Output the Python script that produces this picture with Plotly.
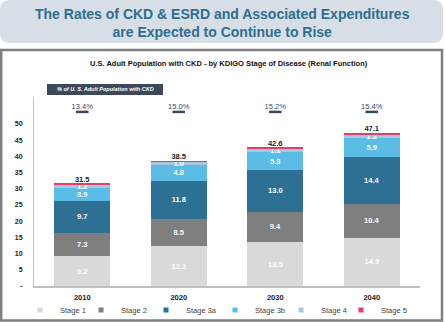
import plotly.graph_objects as go

years = ["2010", "2020", "2030", "2040"]
stages = ["Stage 1", "Stage 2", "Stage 3a", "Stage 3b", "Stage 4", "Stage 5"]
stage1 = [9.2, 12.2, 13.5, 14.9]
stage2 = [7.3, 8.5, 9.4, 10.4]
stage3a = [9.7, 11.8, 13.0, 14.4]
stage3b = [3.9, 4.8, 5.3, 5.9]
stage4 = [1.2, 1.0, 1.1, 1.2]
stage5 = [0.2, 0.2, 0.3, 0.3]
totals = [31.5, 38.5, 42.6, 47.1]
pct_ckd = ["13.4%", "15.0%", "15.2%", "15.4%"]
yticks = [0, 5, 10, 15, 20, 25, 30, 35, 40, 45, 50]
yticktext = ["-", "5", "10", "15", "20", "25", "30", "35", "40", "45", "50"]

series = [stage1, stage2, stage3a, stage3b, stage4, stage5]
colors = ["#d9d9d9", "#7f7f7f", "#2e6f94", "#5bbde6", "#a8c6e2", "#e0406a"]
show_text = [True, True, True, True, True, False]
legend_text_px = [61, 122, 187, 256, 322, 382]

FONT = "Liberation Sans, Arial, sans-serif"
Wpx, Hpx = 445, 322
L, R, T, B = 34, 25, 97, 36
W, H = Wpx - L - R, Hpx - T - B
Y_MAX = 58.3
PCT_DASH_Y = 53.7
PCT_TEXT_Y = 55.2


def fx(px):
    return (px - L) / W


def fy(py):
    return (T + H - py) / H


fig = go.Figure()
legend_layouts = {}

for i, (name, vals, col, st) in enumerate(zip(stages, series, colors, show_text)):
    fig.add_trace(go.Bar(
        x=years, y=vals, name=name, marker=dict(color=col, line=dict(width=0)),
        text=[f"{v:.1f}" for v in vals] if st else None,
        textposition="inside" if st else "none",
        insidetextanchor="middle", constraintext="none",
        textfont=dict(family=FONT, size=7.5, color="white", weight="bold"),
        showlegend=False, hoverinfo="skip",
    ))
    lg = "legend" if i == 0 else f"legend{i + 1}"
    # legend entry with small square marker
    fig.add_trace(go.Scatter(
        x=[None], y=[None], mode="markers", name=name, legend=lg,
        marker=dict(symbol="square", size=5, color=col), showlegend=True,
    ))
    legend_layouts[lg] = dict(
        orientation="h", x=fx(legend_text_px[i] - 41), y=fy(310),
        xanchor="left", yanchor="middle", itemwidth=30,
        font=dict(family=FONT, size=7.5, color="#444444"),
        bgcolor="rgba(0,0,0,0)",
    )

# totals above bars
fig.add_trace(go.Scatter(
    x=years, y=totals, mode="text", text=[f"{t:.1f}" for t in totals],
    textposition="top center",
    textfont=dict(family=FONT, size=7.5, color="#222222", weight="bold"),
    showlegend=False, hoverinfo="skip", cliponaxis=False,
))

# % of population row: dash markers and labels
fig.add_trace(go.Scatter(
    x=years, y=[PCT_DASH_Y] * len(years), mode="markers",
    marker=dict(symbol="line-ew", size=9, line=dict(width=2.5, color="#3d495b")),
    showlegend=False, hoverinfo="skip", cliponaxis=False,
))
fig.add_trace(go.Scatter(
    x=years, y=[PCT_TEXT_Y] * len(years), mode="text", text=pct_ckd,
    textposition="middle center",
    textfont=dict(family=FONT, size=7.5, color="#3d495b"),
    showlegend=False, hoverinfo="skip", cliponaxis=False,
))

shapes = []
# banner with rounded corners
bx0, by0, bx1, by1, r = 0, 0, 443, 43, 10
path = (f"M{fx(bx0 + r)},{fy(by0)} L{fx(bx1 - r)},{fy(by0)} Q{fx(bx1)},{fy(by0)} {fx(bx1)},{fy(by0 + r)} "
        f"L{fx(bx1)},{fy(by1 - r)} Q{fx(bx1)},{fy(by1)} {fx(bx1 - r)},{fy(by1)} "
        f"L{fx(bx0 + r)},{fy(by1)} Q{fx(bx0)},{fy(by1)} {fx(bx0)},{fy(by1 - r)} "
        f"L{fx(bx0)},{fy(by0 + r)} Q{fx(bx0)},{fy(by0)} {fx(bx0 + r)},{fy(by0)} Z")
shapes.append(dict(type="path", xref="paper", yref="paper", path=path,
                   fillcolor="#d7dee6", line=dict(width=0), layer="below"))
# frame
shapes.append(dict(type="rect", xref="paper", yref="paper",
                   x0=fx(1.2), x1=fx(442), y0=fy(50), y1=fy(320.5),
                   line=dict(color="#7f7f7f", width=2.5), fillcolor="rgba(0,0,0,0)"))
# dark label box
shapes.append(dict(type="rect", xref="paper", yref="paper",
                   x0=fx(47), x1=fx(163), y0=fy(84), y1=fy(95),
                   line=dict(width=0), fillcolor="#3d495b"))

annotations = [
    dict(text="<b>The Rates of CKD &amp; ESRD and Associated Expenditures<br>are Expected to Continue to Rise</b>",
         xref="paper", yref="paper", x=fx(222), y=fy(22.5), xanchor="center", yanchor="middle",
         showarrow=False, font=dict(family=FONT, size=14, color="#2f6e91")),
    dict(text="<b>U.S. Adult Population with CKD - by KDIGO Stage of Disease (Renal Function)</b>",
         xref="paper", yref="paper", x=fx(229), y=fy(64), xanchor="center", yanchor="middle",
         showarrow=False, font=dict(family=FONT, size=7.5, color="#111111")),
    dict(text="<b><i>% of U. S. Adult Population with CKD</i></b>",
         xref="paper", yref="paper", x=fx(105), y=fy(89.5), xanchor="center", yanchor="middle",
         showarrow=False, font=dict(family=FONT, size=5.5, color="white")),
]

fig.update_layout(
    width=Wpx, height=Hpx,
    margin=dict(l=L, r=R, t=T, b=B, autoexpand=False),
    barmode="stack", bargap=0.42,
    paper_bgcolor="white", plot_bgcolor="white",
    font=dict(family=FONT, size=7.5, color="#333333"),
    shapes=shapes, annotations=annotations,
    xaxis=dict(type="category", showline=True, linecolor="#bfbfbf", linewidth=1.5,
               showgrid=False, ticks="", ticklabelstandoff=3,
               tickfont=dict(family=FONT, size=7.5, color="#222222", weight="bold")),
    yaxis=dict(range=[0, Y_MAX], tickvals=yticks, ticktext=yticktext,
               showline=True, linecolor="#bfbfbf", linewidth=1, showgrid=False,
               zeroline=False, ticks="", ticklabelstandoff=9,
               tickfont=dict(family=FONT, size=7, color="#222222", weight="bold")),
    **legend_layouts,
)

fig.write_html("out.html")
